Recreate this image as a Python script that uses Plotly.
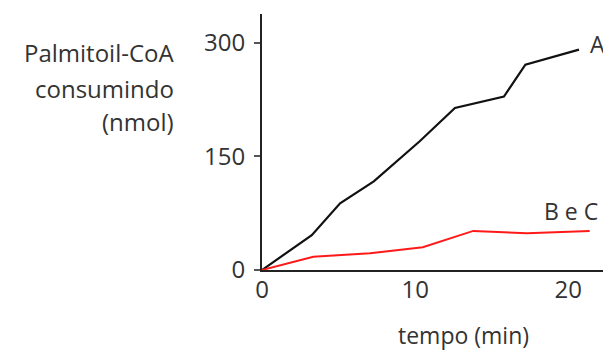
import plotly.graph_objects as go

# Data
tempo_A = [0, 3.25, 5.1, 7.3, 10.3, 12.6, 15.8, 17.2, 20.7]
consumo_A = [0, 46, 88, 117, 170, 214, 229, 271, 291]

tempo_BC = [0, 3.35, 7.06, 10.5, 13.8, 17.3, 21.4]
consumo_BC = [0, 17.6, 22, 30, 51.6, 48.5, 51.6]

y_ticks = [0, 150, 300]
x_ticks = [0, 10, 20]

FONT = "Open Sans"
TXT = "#333333"

# page offset (body margin) compensation
OFF = 8
W, H = 611 - OFF, 352 - OFF
L, T = 262 - OFF, 14 - OFF
R_EDGE, B_EDGE = 605 - OFF, 270 - OFF
PW, PH = R_EDGE - L, B_EDGE - T


def px(xp):
    return (xp - OFF - L) / PW


def py(yp):
    return 1 - (yp - OFF - T) / PH


fig = go.Figure()
fig.add_trace(go.Scatter(x=tempo_A, y=consumo_A, mode="lines",
                         line=dict(color="#111111", width=2.2), showlegend=False))
fig.add_trace(go.Scatter(x=tempo_BC, y=consumo_BC, mode="lines",
                         line=dict(color="#ff1a1a", width=2), showlegend=False))

fig.add_annotation(x=px(588), y=py(44), text="A", showarrow=False, xanchor="left", yanchor="middle",
                   font=dict(family=FONT, size=23, color=TXT), xref="paper", yref="paper")
fig.add_annotation(x=px(571), y=py(211), text="B e C", showarrow=False, xanchor="center", yanchor="middle",
                   font=dict(family=FONT, size=23, color=TXT), xref="paper", yref="paper")

lines = ["Palmitoil-CoA", "consumindo", "(nmol)"]
ys = [52, 88, 121]
for t, yy in zip(lines, ys):
    fig.add_annotation(x=px(176), y=py(yy), text=t, showarrow=False,
                       xanchor="right", yanchor="middle", xref="paper", yref="paper",
                       font=dict(family=FONT, size=24, color=TXT))

fig.add_annotation(x=px(463), y=py(335), text="tempo (min)", showarrow=False,
                   xanchor="center", yanchor="middle", xref="paper", yref="paper",
                   font=dict(family=FONT, size=23, color=TXT))

fig.update_layout(
    width=W, height=H,
    margin=dict(l=L, r=W - R_EDGE, t=T, b=H - B_EDGE),
    plot_bgcolor="white", paper_bgcolor="white",
    font=dict(family=FONT, size=24, color=TXT),
)
fig.update_xaxes(range=[0, 22.4], tickvals=x_ticks, showgrid=False, zeroline=False,
                 showline=True, linecolor="#222222", linewidth=2, ticks="",
                 ticklabelstandoff=-3, tickfont=dict(size=24))
fig.update_yaxes(range=[0, 338], tickvals=y_ticks, showgrid=False, zeroline=False,
                 showline=True, linecolor="#222222", linewidth=2, ticks="outside",
                 ticklen=6, tickcolor="#555555", tickwidth=1.5, tickfont=dict(size=24),
                 ticklabelstandoff=4)

fig.write_html("out.html")
